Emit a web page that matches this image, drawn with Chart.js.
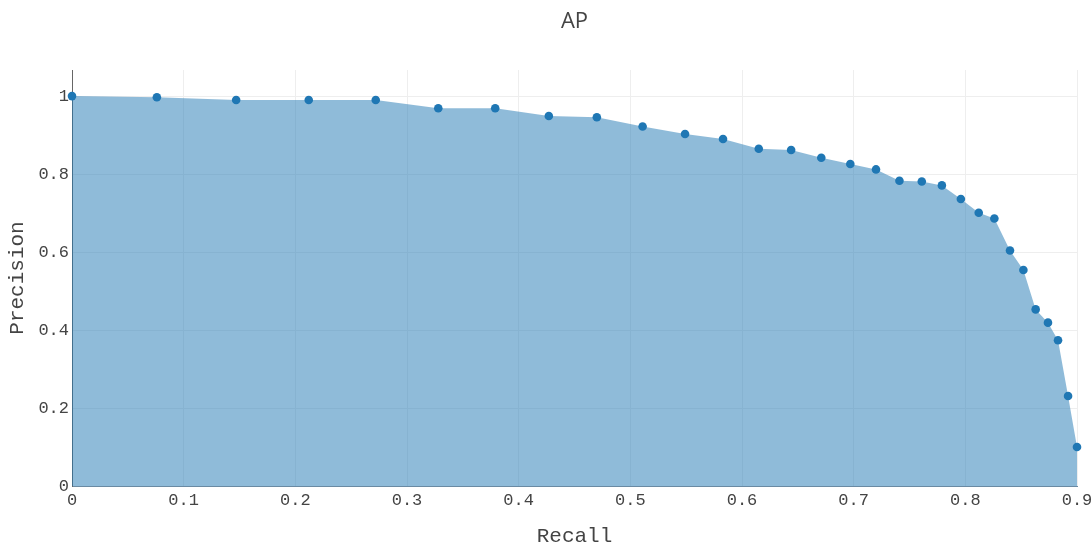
<!DOCTYPE html>
<html>
<head>
<meta charset="utf-8">
<script src="https://cdn.jsdelivr.net/npm/chart.js@4/dist/chart.umd.min.js"></script>
<style>
  html, body { margin: 0; padding: 0; background: #fff; }
  #wrap { width: 1091px; height: 547px; }
</style>
</head>
<body>
<div id="wrap"><canvas id="apChart" width="1091" height="547"></canvas></div>
<script>
    // Datos (recall, precision)
    const recall = [0, 0.076, 0.147, 0.212, 0.272, 0.328, 0.379, 0.427, 0.470, 0.511,
        0.549, 0.583, 0.615, 0.644, 0.671, 0.697, 0.720, 0.741, 0.761, 0.779,
        0.796, 0.812, 0.826, 0.840, 0.852, 0.863, 0.874, 0.883, 0.892, 0.900];
    const precision = [1.0, 0.997, 0.990, 0.990, 0.990, 0.969, 0.969, 0.949, 0.946, 0.922,
        0.903, 0.890, 0.865, 0.862, 0.842, 0.826, 0.812, 0.783, 0.781, 0.771,
        0.736, 0.701, 0.686, 0.604, 0.554, 0.453, 0.419, 0.374, 0.231, 0.100];
    const xTicks = [0, 0.1, 0.2, 0.3, 0.4, 0.5, 0.6, 0.7, 0.8, 0.9];
    const yTicks = [0, 0.2, 0.4, 0.6, 0.8, 1];

    const points = recall.map((r, i) => ({ x: r, y: precision[i] }));
    const fmt = v => String(Number(v.toFixed(1)));
    const monoFont = 'Liberation Mono';

    // Título centrado sobre el área del gráfico (como en plotly)
    const plotTitle = {
        id: 'plotTitle',
        afterDraw(chart) {
            const { ctx, chartArea } = chart;
            ctx.save();
            ctx.font = '22px "Open Sans"';
            ctx.fillStyle = '#444';
            ctx.textAlign = 'center';
            ctx.textBaseline = 'middle';
            ctx.fillText('AP', (chartArea.left + chartArea.right) / 2, 22);
            ctx.restore();
        }
    };

    const ctx = document.getElementById('apChart').getContext('2d');
    const apChart = new Chart(ctx, {
        type: 'line',
        data: {
            datasets: [{
                label: 'AP',
                data: points,
                fill: 'origin',
                backgroundColor: 'rgba(31,119,180,0.5)',
                borderColor: 'rgba(0,0,0,0)',
                borderWidth: 0,
                pointRadius: 4.3,
                pointBackgroundColor: '#1f77b4',
                pointBorderWidth: 0,
                tension: 0,
                clip: 6
            }]
        },
        options: {
            responsive: false,
            animation: false,
            layout: { padding: { top: 70, right: 14, left: 0, bottom: 0 } },
            plugins: {
                legend: { display: false },
                tooltip: { enabled: false },
                title: { display: false }
            },
            scales: {
                x: {
                    type: 'linear',
                    min: 0,
                    max: 0.9,
                    afterBuildTicks: s => { s.ticks = xTicks.map(v => ({ value: v })); },
                    afterFit: s => { s.height = 61; s.paddingLeft = 0; s.paddingRight = 0; },
                    grid: { color: '#eeeeee', drawTicks: false },
                    border: { color: '#6a8aa3', width: 1 },
                    ticks: {
                        padding: 4,
                        maxRotation: 0,
                        autoSkip: false,
                        color: '#444',
                        font: { family: monoFont, size: 17 },
                        callback: v => fmt(v)
                    },
                    title: {
                        display: true,
                        text: 'Recall',
                        color: '#444',
                        font: { family: monoFont, size: 21, lineHeight: 1 },
                        padding: { top: 0, bottom: 0 }
                    }
                },
                y: {
                    type: 'linear',
                    min: 0,
                    max: 1.067,
                    afterBuildTicks: s => { s.ticks = yTicks.map(v => ({ value: v })); },
                    afterFit: s => { s.width = 72; s.paddingTop = 0; s.paddingBottom = 0; },
                    grid: { color: '#eeeeee', drawTicks: false },
                    border: { color: '#666', width: 1 },
                    ticks: {
                        padding: 3,
                        color: '#444',
                        font: { family: monoFont, size: 17 },
                        callback: v => fmt(v)
                    },
                    title: {
                        display: true,
                        text: 'Precision',
                        color: '#444',
                        font: { family: monoFont, size: 21, lineHeight: 1 },
                        padding: { top: 7, bottom: 0 }
                    }
                }
            }
        },
        plugins: [plotTitle]
    });
</script>
</body>
</html>
